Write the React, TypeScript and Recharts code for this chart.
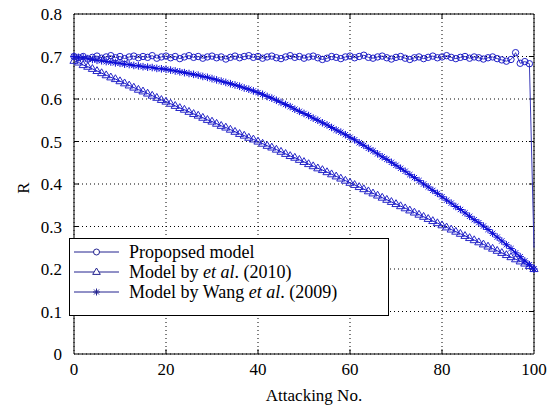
import React from 'react';
import { LineChart, Line, XAxis, YAxis, CartesianGrid, ReferenceLine, Legend } from 'recharts';

const attackNo = [
  0, 1, 2, 3, 4, 5, 6, 7, 8, 9, 10, 11, 12, 13, 14, 15, 16, 17, 18, 19,
  20, 21, 22, 23, 24, 25, 26, 27, 28, 29, 30, 31, 32, 33, 34, 35, 36, 37, 38, 39,
  40, 41, 42, 43, 44, 45, 46, 47, 48, 49, 50, 51, 52, 53, 54, 55, 56, 57, 58, 59,
  60, 61, 62, 63, 64, 65, 66, 67, 68, 69, 70, 71, 72, 73, 74, 75, 76, 77, 78, 79,
  80, 81, 82, 83, 84, 85, 86, 87, 88, 89, 90, 91, 92, 93, 94, 95, 96, 97, 98, 99, 100,
];

const proposed = [
  0.700, 0.697, 0.700, 0.694, 0.698, 0.701, 0.696, 0.699, 0.702, 0.697,
  0.700, 0.695, 0.699, 0.701, 0.697, 0.700, 0.698, 0.702, 0.696, 0.699,
  0.701, 0.697, 0.700, 0.695, 0.699, 0.702, 0.698, 0.700, 0.696, 0.699,
  0.701, 0.697, 0.699, 0.694, 0.698, 0.701, 0.697, 0.700, 0.702, 0.698,
  0.700, 0.696, 0.699, 0.701, 0.697, 0.695, 0.699, 0.702, 0.698, 0.700,
  0.696, 0.699, 0.701, 0.697, 0.693, 0.696, 0.700, 0.698, 0.695, 0.699,
  0.701, 0.697, 0.700, 0.703, 0.698, 0.696, 0.699, 0.701, 0.697, 0.694,
  0.698, 0.700, 0.696, 0.693, 0.697, 0.699, 0.695, 0.698, 0.701, 0.697,
  0.699, 0.702, 0.698, 0.695, 0.698, 0.700, 0.696, 0.699, 0.697, 0.694,
  0.697, 0.699, 0.695, 0.692, 0.689, 0.693, 0.709, 0.684, 0.688, 0.683,
  0.250,
];

const modelEtAl = [
  0.690, 0.686, 0.680, 0.676, 0.671, 0.666, 0.661, 0.656, 0.651, 0.647,
  0.642, 0.637, 0.632, 0.627, 0.622, 0.618, 0.613, 0.608, 0.603, 0.598,
  0.594, 0.589, 0.584, 0.579, 0.575, 0.570, 0.565, 0.561, 0.556, 0.551,
  0.547, 0.542, 0.537, 0.533, 0.528, 0.523, 0.518, 0.514, 0.509, 0.505,
  0.500, 0.495, 0.490, 0.486, 0.481, 0.476, 0.471, 0.466, 0.462, 0.457,
  0.452, 0.447, 0.442, 0.437, 0.433, 0.428, 0.423, 0.418, 0.413, 0.408,
  0.403, 0.398, 0.393, 0.388, 0.383, 0.378, 0.373, 0.368, 0.363, 0.358,
  0.353, 0.348, 0.343, 0.338, 0.333, 0.328, 0.323, 0.318, 0.313, 0.308,
  0.303, 0.298, 0.293, 0.288, 0.283, 0.278, 0.273, 0.268, 0.263, 0.258,
  0.253, 0.248, 0.243, 0.238, 0.233, 0.228, 0.223, 0.218, 0.213, 0.207,
  0.200,
];

const modelWang = [
  0.700, 0.698, 0.697, 0.695, 0.693, 0.691, 0.690, 0.688, 0.687, 0.685,
  0.684, 0.682, 0.681, 0.679, 0.678, 0.676, 0.675, 0.674, 0.672, 0.671,
  0.670, 0.668, 0.666, 0.664, 0.662, 0.660, 0.658, 0.656, 0.653, 0.651,
  0.648, 0.645, 0.642, 0.639, 0.636, 0.633, 0.630, 0.626, 0.623, 0.619,
  0.615, 0.611, 0.606, 0.602, 0.597, 0.592, 0.587, 0.582, 0.576, 0.571,
  0.566, 0.561, 0.555, 0.550, 0.544, 0.539, 0.533, 0.527, 0.522, 0.516,
  0.510, 0.504, 0.497, 0.491, 0.484, 0.478, 0.471, 0.464, 0.458, 0.451,
  0.444, 0.437, 0.430, 0.422, 0.415, 0.408, 0.400, 0.393, 0.385, 0.378,
  0.370, 0.362, 0.355, 0.347, 0.340, 0.332, 0.324, 0.316, 0.309, 0.301,
  0.293, 0.284, 0.275, 0.266, 0.257, 0.248, 0.238, 0.229, 0.219, 0.210,
  0.200,
];

const xTicks = [0, 20, 40, 60, 80, 100];
const yTicks = [0, 0.1, 0.2, 0.3, 0.4, 0.5, 0.6, 0.7, 0.8];

const FONT = 'Liberation Serif, DejaVu Serif, Times New Roman, Times, serif';
const BLUE = '#1414cc';
const LEGEND_LINE = '#23238f';

const data = attackNo.map((x, i) => ({
  x,
  proposed: proposed[i],
  etal: modelEtAl[i],
  wang: modelWang[i],
}));

// MATLAB style markers
const circleMarker = (size: number, color: string) => (p: any) => {
  if (p.cx == null || p.cy == null) return <g key={p.key} />;
  if (p.index === proposed.length - 1) return <g key={p.key} />;
  return <circle key={p.key} cx={p.cx} cy={p.cy} r={size} fill="none" stroke={color} strokeWidth={1} />;
};

const triangleMarker = (size: number, color: string) => (p: any) => {
  if (p.cx == null || p.cy == null) return <g key={p.key} />;
  const { cx, cy } = p;
  return (
    <path
      key={p.key}
      d={`M${cx},${cy - size} L${cx + size * 0.95},${cy + size * 0.6} L${cx - size * 0.95},${cy + size * 0.6} Z`}
      fill="none"
      stroke={color}
      strokeWidth={1}
    />
  );
};

const starMarker = (size: number, color: string) => (p: any) => {
  if (p.cx == null || p.cy == null) return <g key={p.key} />;
  const { cx, cy } = p;
  const d = size * 0.7;
  return (
    <path
      key={p.key}
      d={`M${cx - size},${cy} L${cx + size},${cy} M${cx},${cy - size} L${cx},${cy + size} M${cx - d},${cy - d} L${cx + d},${cy + d} M${cx - d},${cy + d} L${cx + d},${cy - d}`}
      stroke={color}
      strokeWidth={1}
    />
  );
};

const legendRows = [
  { key: 'proposed', label: <>Propopsed model</> },
  { key: 'etal', label: <>Model by <i>et al</i>. (2010)</> },
  { key: 'wang', label: <>Model by Wang <i>et al</i>. (2009)</> },
];

const LegendBox = () => (
  <div
    style={{
      width: 320,
      height: 78,
      boxSizing: 'border-box',
      border: '1px solid #000',
      background: '#fff',
      fontFamily: FONT,
      fontSize: 18,
      color: '#000',
      paddingTop: 3,
    }}
  >
    {legendRows.map((r) => (
      <div key={r.key} style={{ display: 'flex', alignItems: 'center', height: 20 }}>
        <svg width={56} height={20} style={{ flex: 'none' }}>
          <line x1={4} y1={10} x2={49} y2={10} stroke={LEGEND_LINE} strokeWidth={1} />
          {r.key === 'proposed' && <circle cx={26.5} cy={10} r={3} fill="#fff" stroke={LEGEND_LINE} />}
          {r.key === 'etal' && (
            <path d="M26.5,6 L30.3,12.4 L22.7,12.4 Z" fill="#fff" stroke={LEGEND_LINE} />
          )}
          {r.key === 'wang' && (
            <path d="M23,10 L30,10 M26.5,6.5 L26.5,13.5 M24,7.5 L29,12.5 M24,12.5 L29,7.5" stroke={LEGEND_LINE} />
          )}
        </svg>
        <span style={{ marginLeft: 3, whiteSpace: 'nowrap', lineHeight: '20px' }}>{r.label}</span>
      </div>
    ))}
  </div>
);

export default function App() {
  const tickStyle = { fill: '#000', fontSize: 17, fontFamily: FONT };

  return (
    <div style={{ position: 'absolute', left: 0, top: 0, width: 549, height: 410, background: '#fff', fontFamily: FONT }}>
      <LineChart width={549} height={410} data={data} margin={{ top: 14, right: 15, left: 0, bottom: 0 }} style={{ fontFamily: FONT }}>
        <CartesianGrid stroke="#000" strokeDasharray="1 3" strokeWidth={1} />
        <XAxis
          dataKey="x"
          type="number"
          domain={[0, 100]}
          ticks={xTicks}
          interval={0}
          height={56}
          tickSize={0}
          tickMargin={9}
          tickLine={false}
          axisLine={{ stroke: '#000' }}
          tick={tickStyle}
          label={{
            content: (props: any) => {
              const vb = props.viewBox;
              return (
                <text x={vb.x + vb.width / 2 + 10} y={401} textAnchor="middle" fill="#000" fontSize={17} style={{ fontFamily: FONT }}>
                  Attacking No.
                </text>
              );
            },
          }}
        />
        <YAxis
          type="number"
          domain={[0, 0.8]}
          ticks={yTicks}
          interval={0}
          width={74}
          tickSize={0}
          tickMargin={12}
          tickLine={false}
          axisLine={{ stroke: '#000' }}
          tick={tickStyle}
          tickFormatter={(v: number) => (v === 0 ? '0' : v.toFixed(1))}
          label={{
            content: (props: any) => {
              const vb = props.viewBox;
              const cx = vb.x + 23;
              const cy = vb.y + vb.height / 2 + 4;
              return (
                <text
                  x={cx}
                  y={cy}
                  transform={`rotate(-90, ${cx}, ${cy})`}
                  textAnchor="middle"
                  dominantBaseline="central"
                  fill="#000"
                  fontSize={17}
                  style={{ fontFamily: FONT }}
                >
                  R
                </text>
              );
            },
          }}
        />
        <ReferenceLine y={0.8} stroke="#000" ifOverflow="visible" />
        <ReferenceLine x={100} stroke="#000" ifOverflow="visible" />
        {xTicks.slice(1, -1).map((t) => (
          <ReferenceLine key={`xb${t}`} segment={[{ x: t, y: 0 }, { x: t, y: 0.011 }]} stroke="#000" />
        ))}
        {xTicks.slice(1, -1).map((t) => (
          <ReferenceLine key={`xt${t}`} segment={[{ x: t, y: 0.8 }, { x: t, y: 0.789 }]} stroke="#000" />
        ))}
        {yTicks.slice(1, -1).map((t) => (
          <ReferenceLine key={`yl${t}`} segment={[{ x: 0, y: t }, { x: 1.1, y: t }]} stroke="#000" />
        ))}
        {yTicks.slice(1, -1).map((t) => (
          <ReferenceLine key={`yr${t}`} segment={[{ x: 100, y: t }, { x: 98.9, y: t }]} stroke="#000" />
        ))}
        <Line
          type="linear"
          dataKey="etal"
          stroke={BLUE}
          strokeWidth={1}
          dot={triangleMarker(4.3, '#2626c8')}
          activeDot={false}
          isAnimationActive={false}
        />
        <Line
          type="linear"
          dataKey="wang"
          stroke={BLUE}
          strokeWidth={1.5}
          dot={starMarker(3.8, '#0c0cd8')}
          activeDot={false}
          isAnimationActive={false}
        />
        <Line
          type="linear"
          dataKey="proposed"
          stroke="#3a3ab8"
          strokeWidth={1}
          dot={circleMarker(3.2, '#2020c8')}
          activeDot={false}
          isAnimationActive={false}
        />
        <Legend
          layout="vertical"
          align="center"
          verticalAlign="middle"
          content={() => <LegendBox />}
          wrapperStyle={{ position: 'absolute', left: 69, top: 238, width: 320, height: 78 }}
        />
      </LineChart>
    </div>
  );
}
